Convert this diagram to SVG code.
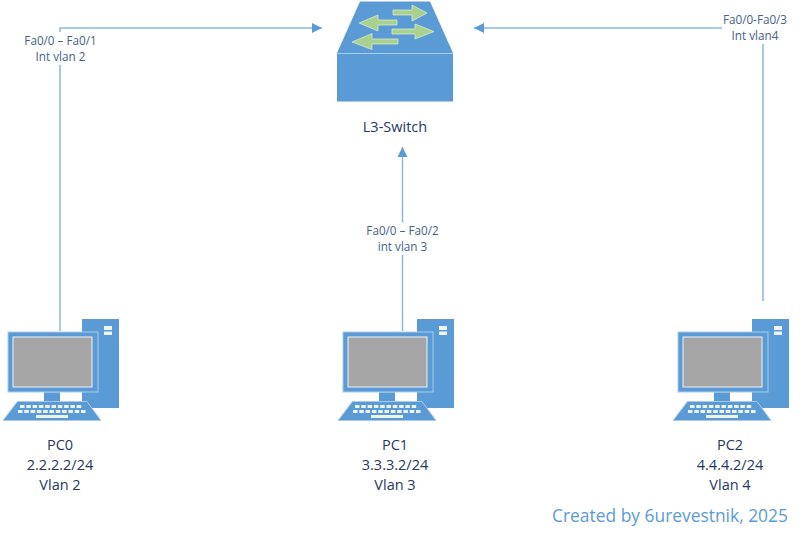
<svg xmlns="http://www.w3.org/2000/svg" width="800" height="538" viewBox="0 0 800 538">
<style>
.c{fill:none;stroke:#8db6e0;stroke-width:1.5}
.ah{fill:#5b9bd5}
.b{fill:#5b9bd5}
.o{fill:#5b9bd5;stroke:#a9cbea;stroke-width:1}
.w{fill:#eef4fb}
.ar{fill:#a9d18e;stroke:#e2f0d9;stroke-width:.7}
text{font-family:"Open Sans","Noto Sans",sans-serif;text-anchor:middle}
.n{font-size:14.5px;fill:#1f3864}
.l{font-size:11.7px;fill:#44608c}
.f{font-size:17.4px;fill:#5b9bd5}
</style>
<defs>
<g id="pc">
<rect class="b" x="82" y="319" width="37" height="89"/>
<rect class="w" x="104" y="326" width="8" height="4"/>
<rect class="w" x="104" y="331.500" width="8" height="3.500"/>
<rect class="o" x="8" y="332" width="90" height="60"/>
<rect fill="#a5a5a5" stroke="#eef4fb" x="13" y="337" width="79" height="50"/>
<rect class="b" x="44" y="392.500" width="16" height="9"/>
<path class="o" d="M17.500 401.500H87L101 420.500H3Z"/>
<path stroke="#eef4fb" stroke-width="3" stroke-dasharray="4.500 1.800" fill="none" d="M20 406.500H83M18 411.500H86"/>
<rect class="w" x="36" y="415" width="32" height="3"/>
</g>
<marker id="a" markerWidth="11" markerHeight="11" refX="10" refY="5" orient="auto" markerUnits="userSpaceOnUse"><path class="ah" d="M0 0L10 5L0 10Z"/></marker>
</defs>
<g id="connectors">
<path class="c" d="M60 331V65M60 32V28H322" marker-end="url(#a)"/>
<path class="c" d="M402.500 331V255M402.500 222.500V147" marker-end="url(#a)"/>
<path class="c" d="M763 301V44M722 28H474" marker-end="url(#a)"/>
</g>
<g id="l1" class="l"><text x="60.500" y="45">Fa0/0 – Fa0/1</text><text x="60.500" y="60.500">Int vlan 2</text></g>
<g id="l2" class="l"><text x="402.500" y="235">Fa0/0 – Fa0/2</text><text x="402.500" y="250.500">int vlan 3</text></g>
<g id="l3" class="l"><text x="755" y="24">Fa0/0-Fa0/3</text><text x="755" y="40">Int vlan4</text></g>
<g id="switch">
<path class="b" d="M360 1.500H430L453 53H337Z"/>
<rect class="b" x="337" y="54" width="116" height="47.500"/>
<path d="M337 53.500H453" stroke="#a9cbea" fill="none"/>
<path class="ar" d="M393 10H412V5L427 13L412 21V15H393Z"/>
<path class="ar" d="M392 29H415V24L434 31.500L415 39V34H392Z"/>
<path class="ar" d="M397 20H378V15L359 23L378 31V25H397Z"/>
<path class="ar" d="M398 39H372V33.500L352 42L372 49.500V44H398Z"/>
<text class="n" x="395" y="132">L3-Switch</text>
</g>
<g id="pc0"><use href="#pc"/><text class="n"><tspan x="60" y="449.500">PC0</tspan><tspan x="60" y="470">2.2.2.2/24</tspan><tspan x="60" y="490">Vlan 2</tspan></text></g>
<g id="pc1"><use href="#pc" x="335"/><text class="n"><tspan x="395" y="449.500">PC1</tspan><tspan x="395" y="470">3.3.3.2/24</tspan><tspan x="395" y="490">Vlan 3</tspan></text></g>
<g id="pc2"><use href="#pc" x="670"/><text class="n"><tspan x="730" y="449.500">PC2</tspan><tspan x="730" y="470">4.4.4.2/24</tspan><tspan x="730" y="490">Vlan 4</tspan></text></g>
<text id="credit" class="f" x="670" y="521.500">Created by 6urevestnik, 2025</text>
</svg>
